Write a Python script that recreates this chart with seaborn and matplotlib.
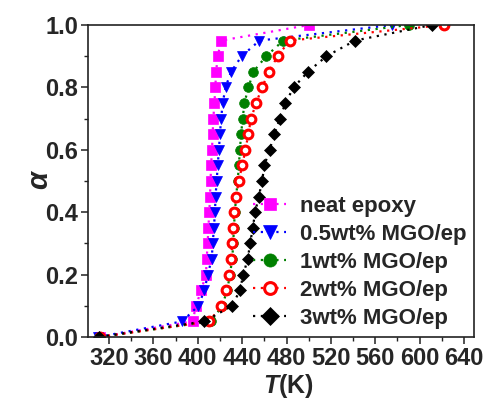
import numpy as np
import pandas as pd
import matplotlib
matplotlib.use("Agg")
import matplotlib.pyplot as plt
import seaborn as sns
from matplotlib.ticker import MultipleLocator

# ---- data ----
alpha = [0.0, 0.05, 0.10, 0.15, 0.20, 0.25, 0.30, 0.35, 0.40, 0.45, 0.50,
         0.55, 0.60, 0.65, 0.70, 0.75, 0.80, 0.85, 0.90, 0.95, 1.0]
T_neat = [312, 395.3, 398.4, 403, 407.4, 408, 408.9, 409.5, 410.4, 411, 411.5,
          412, 412.8, 413.4, 414, 415, 415.8, 416.5, 418, 421, 500]
T_05 = [310, 386, 400.5, 406, 409, 412.5, 413.5, 414.5, 415.5, 416, 417,
        418, 419, 420, 421, 422.5, 425, 430, 439.5, 455.6, 575]
T_1 = [311, 412, 422, 426.5, 429, 431, 432, 432.5, 433.5, 434.5, 436,
       437, 438, 439, 440.5, 442, 445.7, 450, 461.7, 477, 590]
T_2 = [312, 410.4, 421, 425.5, 427.9, 430, 431, 431.3, 433, 434.5, 437,
       440, 443, 445.5, 448, 452.6, 458, 464, 472, 482.7, 622]
T_3 = [311, 405.9, 431, 438, 441, 445, 447.2, 449.6, 451.7, 455, 458,
       460, 464.7, 469, 474, 479, 486.4, 499.3, 516, 541.7, 611]

labels = ["neat epoxy", "0.5wt% MGO/ep", "1wt% MGO/ep", "2wt% MGO/ep", "3wt% MGO/ep"]
series = [T_neat, T_05, T_1, T_2, T_3]
colors = ["#FF00FF", "#0000FF", "#008000", "#FF0000", "#000000"]
markers = ["s", "v", "o", "o", "D"]
faces = ["#FF00FF", "#0000FF", "#008000", "white", "#000000"]
msizes = [6.5, 7.5, 7.0, 6.3, 6.5]
medge = [0.5, 0.5, 0.5, 2.2, 0.5]

sns.set_theme(style="ticks")
plt.rcParams["font.family"] = ["Liberation Sans", "DejaVu Sans"]
plt.rcParams["font.weight"] = "bold"
plt.rcParams["mathtext.fontset"] = "custom"
plt.rcParams["mathtext.it"] = "Liberation Sans:italic:bold"
plt.rcParams["mathtext.rm"] = "Liberation Sans:bold"

fig = plt.figure(figsize=(4.85, 4.05), dpi=100)
ax = fig.add_axes([0.1814, 0.1679, 0.7959, 0.7704])

for T, lab, c, m, fc, ms, mew in zip(series, labels, colors, markers, faces, msizes, medge):
    df = pd.DataFrame({"T": T, "alpha": alpha})
    sns.lineplot(data=df, x="T", y="alpha", ax=ax, color=c, estimator=None,
                 sort=False, label=lab, marker=m, markersize=ms,
                 markerfacecolor=fc, markeredgecolor=c, markeredgewidth=mew,
                 linestyle=(0, (1, 2.5)), linewidth=1.6)

ax.set_xlim(301, 649)
ax.set_ylim(0, 1.0)
ax.xaxis.set_major_locator(MultipleLocator(40))
ax.xaxis.set_minor_locator(MultipleLocator(20))
ax.yaxis.set_major_locator(MultipleLocator(0.2))
ax.yaxis.set_minor_locator(MultipleLocator(0.1))
ax.set_xticks(range(320, 641, 40))
ax.set_yticks([0.0, 0.2, 0.4, 0.6, 0.8, 1.0])
ax.set_yticklabels(["0.0", "0.2", "0.4", "0.6", "0.8", "1.0"])
ax.tick_params(axis="x", which="major", labelsize=17)
ax.tick_params(axis="y", which="major", labelsize=17)
ax.tick_params(axis="both", which="major", direction="out", length=5, width=1.1,
               pad=2, color="#222222")
ax.tick_params(axis="both", which="minor", direction="out", length=3, width=1.0,
               color="#222222")
for lab in ax.get_xticklabels() + ax.get_yticklabels():
    lab.set_fontweight("bold")
for sp in ax.spines.values():
    sp.set_linewidth(1.2)
    sp.set_color("#222222")
    sp.set_visible(True)

ax.set_xlabel(r"$T$(K)", fontsize=18, fontweight="bold")
ax.set_ylabel("α", fontsize=21, fontweight="bold", fontstyle="italic")
ax.xaxis.set_label_coords(0.52, -0.157)
ax.xaxis.label.set_va("center")
ax.yaxis.set_label_coords(-0.127, 0.503)
ax.yaxis.label.set_va("center")

leg = ax.legend(loc="lower right", bbox_to_anchor=(1.0, 0.0), frameon=False,
                prop={"family": "Liberation Sans", "weight": "bold", "size": 16},
                handlelength=1.5, handletextpad=0.6, labelspacing=0.32,
                borderaxespad=0.15, borderpad=0.2, markerscale=1.35)

fig.savefig("out.png", dpi=100)
